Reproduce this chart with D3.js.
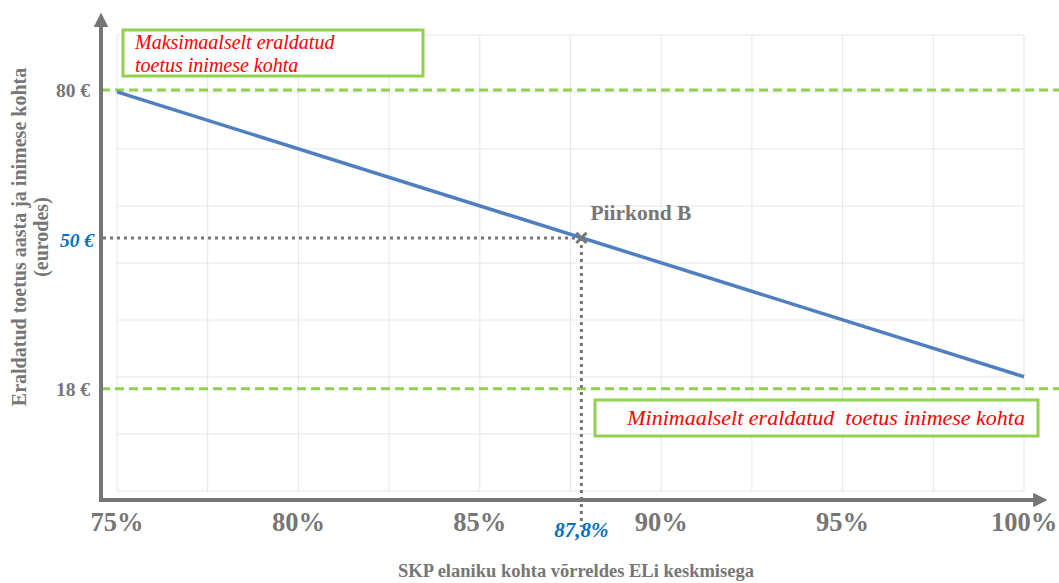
<!DOCTYPE html>
<html>
<head>
<meta charset="utf-8">
<script src="https://cdn.jsdelivr.net/npm/d3@7"></script>
<style>
  body { margin: 0; background: #fff; }
  svg { display: block; }
  text { font-family: "Liberation Serif", serif; }
</style>
</head>
<body>
<script>
// data
const xTicks = [75, 80, 85, 90, 95, 100];
const xGrid = [75, 77.5, 80, 82.5, 85, 87.5, 90, 92.5, 95, 97.5, 100];
const lineX = [75, 100];
const lineY = [79.6, 20.5];
const maxSupport = 80;
const minSupport = 18;
const regionX = 87.8;
const regionY = 49.3;
const regionName = "Piirkond B";
const regionXLabel = "87,8%";
const regionYLabel = "50 €";
const maxLabel = ["Maksimaalselt eraldatud", "toetus inimese kohta"];
const minLabel = "Minimaalselt eraldatud  toetus inimese kohta";
const xTitle = "SKP elaniku kohta võrreldes ELi keskmisega";
const yTitle = ["Eraldatud toetus aasta ja inimese kohta", "(eurodes)"];

const width = 1059, height = 583;
const gray = "#767676", green = "#92d050", blue = "#4f7fbf", accent = "#0070c0";

const svg = d3.select("body").append("svg")
  .attr("width", width).attr("height", height);

const x = d3.scaleLinear().domain([75, 100]).range([117, 1024]);
const y = d3.scaleLinear().domain([-3.2, 91.4]).range([491, 35]);
const yGrid = d3.range(9).map(i => -3.2 + i * (94.6 / 8));

// gridlines
svg.append("g").selectAll("line").data(xGrid).join("line")
  .attr("x1", d => x(d)).attr("x2", d => x(d))
  .attr("y1", y(-3.2)).attr("y2", y(91.4))
  .attr("stroke", "#e6e6e6").attr("stroke-width", 1);
svg.append("g").selectAll("line").data(yGrid).join("line")
  .attr("x1", x(75)).attr("x2", x(100))
  .attr("y1", d => y(d)).attr("y2", d => y(d))
  .attr("stroke", "#e6e6e6").attr("stroke-width", 1);

// min / max dashed lines
svg.append("g").selectAll("line").data([maxSupport, minSupport]).join("line")
  .attr("x1", 101).attr("x2", width)
  .attr("y1", d => y(d)).attr("y2", d => y(d))
  .attr("stroke", green).attr("stroke-width", 3)
  .attr("stroke-dasharray", "9,5");

// dotted guides to region B
const guide = svg.append("g").attr("stroke", gray).attr("stroke-width", 3)
  .attr("stroke-dasharray", "3,4");
guide.append("line")
  .attr("x1", 103).attr("x2", x(regionX))
  .attr("y1", y(regionY)).attr("y2", y(regionY));
guide.append("line")
  .attr("x1", x(regionX)).attr("x2", x(regionX))
  .attr("y1", y(regionY)).attr("y2", 527);

// blue line
svg.append("path")
  .datum(d3.zip(lineX, lineY))
  .attr("d", d3.line().x(d => x(d[0])).y(d => y(d[1])))
  .attr("fill", "none").attr("stroke", blue).attr("stroke-width", 3.5);

// axes with arrows
svg.append("defs").append("marker")
  .attr("id", "arrow").attr("viewBox", "0 0 10 10")
  .attr("refX", 2).attr("refY", 5)
  .attr("markerWidth", 3.6).attr("markerHeight", 3.6)
  .attr("orient", "auto")
  .append("path").attr("d", "M0,0L10,5L0,10Z").attr("fill", gray);
svg.append("line")
  .attr("x1", 101).attr("x2", 101).attr("y1", 502).attr("y2", 24)
  .attr("stroke", gray).attr("stroke-width", 4).attr("marker-end", "url(#arrow)");
svg.append("line")
  .attr("x1", 99).attr("x2", 1036).attr("y1", 500).attr("y2", 500)
  .attr("stroke", gray).attr("stroke-width", 4).attr("marker-end", "url(#arrow)");

// x tick labels
svg.append("g").selectAll("text").data(xTicks).join("text")
  .attr("x", d => x(d)).attr("y", 531)
  .attr("text-anchor", "middle")
  .attr("font-size", 26.5).attr("font-weight", "bold").attr("fill", gray)
  .text(d => d + "%");
svg.append("text")
  .attr("x", x(regionX)).attr("y", 537)
  .attr("text-anchor", "middle")
  .attr("font-size", 21).attr("font-weight", "bold").attr("font-style", "italic")
  .attr("fill", accent).text(regionXLabel);

// y tick labels
svg.append("g").selectAll("text").data([maxSupport, minSupport]).join("text")
  .attr("x", 90).attr("y", d => y(d) + 7)
  .attr("text-anchor", "end")
  .attr("font-size", 19.5).attr("font-weight", "bold").attr("fill", gray)
  .text(d => d + " €");
svg.append("text")
  .attr("x", 94).attr("y", y(regionY) + 9)
  .attr("text-anchor", "end")
  .attr("font-size", 19.5).attr("font-weight", "bold").attr("font-style", "italic")
  .attr("fill", accent).text(regionYLabel);

// region B marker
svg.append("path")
  .attr("transform", `translate(${x(regionX)},${y(regionY)})`)
  .attr("d", d3.symbol(d3.symbolX, 70)())
  .attr("fill", "none").attr("stroke", gray).attr("stroke-width", 3);
svg.append("text")
  .attr("x", x(regionX) + 9).attr("y", y(regionY) - 18)
  .attr("font-size", 21.5).attr("font-weight", "bold").attr("fill", gray)
  .text(regionName);

// label boxes
svg.append("rect")
  .attr("x", 123).attr("y", 30).attr("width", 300).attr("height", 46)
  .attr("fill", "#fff").attr("stroke", green).attr("stroke-width", 3);
svg.append("text")
  .attr("font-size", 20).attr("font-style", "italic").attr("fill", "#ff0000")
  .selectAll("tspan").data(maxLabel).join("tspan")
  .attr("x", 135).attr("y", (d, i) => 49 + i * 23)
  .text(d => d);
svg.append("rect")
  .attr("x", 595).attr("y", 400).attr("width", 443).attr("height", 36)
  .attr("fill", "#fff").attr("stroke", green).attr("stroke-width", 3);
svg.append("text")
  .attr("x", 1025).attr("y", 425).attr("text-anchor", "end")
  .attr("font-size", 22).attr("font-style", "italic").attr("fill", "#ff0000")
  .attr("xml:space", "preserve")
  .text(minLabel);

// axis titles
svg.append("text")
  .attr("x", 576).attr("y", 577).attr("text-anchor", "middle")
  .attr("font-size", 18.5).attr("font-weight", "bold").attr("fill", gray)
  .text(xTitle);
svg.append("text")
  .attr("transform", "translate(26,237) rotate(-90)")
  .attr("text-anchor", "middle")
  .attr("font-size", 20).attr("font-weight", "bold").attr("fill", gray)
  .selectAll("tspan").data(yTitle).join("tspan")
  .attr("x", 0).attr("y", (d, i) => i * 22)
  .text(d => d);
</script>
</body>
</html>
